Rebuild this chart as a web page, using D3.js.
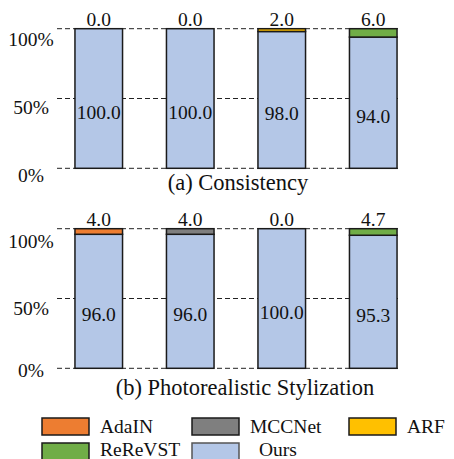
<!DOCTYPE html>
<html>
<head>
<meta charset="utf-8">
<script src="https://cdn.jsdelivr.net/npm/d3@7"></script>
<style>
  html, body { margin: 0; padding: 0; background: #fff; }
  svg { display: block; }
</style>
</head>
<body>
<svg id="chart" width="454" height="459" font-family="'Liberation Serif', 'Times New Roman', Times, 'DejaVu Serif', serif" fill="#111"></svg>
<script>
// ---- data ----
const methods = ["AdaIN", "MCCNet", "ARF", "ReReVST"];
const seriesNames = ["AdaIN", "MCCNet", "ARF", "ReReVST", "Ours"];
const seriesColors = ["#ED7D31", "#7F7F7F", "#FFC000", "#70AD47", "#B4C7E7"];
const panelTitles = ["(a) Consistency", "(b) Photorealistic Stylization"];
const consistencyOther = [0.0, 0.0, 2.0, 6.0];
const consistencyOurs = [100.0, 100.0, 98.0, 94.0];
const photoOther = [4.0, 4.0, 0.0, 4.7];
const photoOurs = [96.0, 96.0, 100.0, 95.3];
const yTicks = [0, 50, 100];
const yTickLabels = ["0%", "50%", "100%"];

// layout (pixels)
const panels = [
  { title: panelTitles[0], other: consistencyOther, ours: consistencyOurs,
    top: 28.7, bottom: 168.3, labelRange: [181.7, 114, 45.7], titleX: 238, titleY: 190 },
  { title: panelTitles[1], other: photoOther, ours: photoOurs,
    top: 228.7, bottom: 368.3, labelRange: [376.7, 315, 247.7], titleX: 245, titleY: 395 }
];

const svg = d3.select("#chart");
const FS = 19.5;
const FS_TITLE = 22.5;

const x = d3.scaleBand()
  .domain(methods)
  .range([53, 419])
  .paddingInner(0.48)
  .paddingOuter(0.24);

const color = d3.scaleOrdinal().domain(seriesNames).range(seriesColors);

panels.forEach(p => {
  const g = svg.append("g");
  const y = d3.scaleLinear().domain([0, 100]).range([p.bottom, p.top]);
  const yLab = d3.scaleLinear().domain(yTicks).range(p.labelRange);

  // dashed gridlines
  g.selectAll("line.grid").data(yTicks).enter().append("line")
    .attr("x1", 57).attr("x2", 401)
    .attr("y1", d => y(d)).attr("y2", d => y(d))
    .attr("stroke", "#222").attr("stroke-width", 1)
    .attr("stroke-dasharray", "5,3");

  // y tick labels
  g.selectAll("text.ytick").data(yTicks).enter().append("text")
    .attr("x", 31)
    .attr("y", d => yLab(d))
    .attr("text-anchor", "middle")
    .attr("font-size", FS)
    .text((d, i) => yTickLabels[i]);

  // Ours segments
  g.selectAll("rect.ours").data(methods).enter().append("rect")
    .attr("x", d => x(d))
    .attr("width", x.bandwidth())
    .attr("y", (d, i) => y(p.ours[i]))
    .attr("height", (d, i) => y(0) - y(p.ours[i]))
    .attr("fill", color("Ours"))
    .attr("stroke", "#1a1a1a").attr("stroke-width", 1.5);

  // other method segments on top
  methods.forEach((m, i) => {
    if (p.other[i] <= 0) return;
    g.append("rect")
      .attr("x", x(m))
      .attr("width", x.bandwidth())
      .attr("y", y(p.ours[i] + p.other[i]))
      .attr("height", y(0) - y(p.other[i]))
      .attr("fill", color(m))
      .attr("stroke", "#1a1a1a").attr("stroke-width", 1.5);
  });

  // top value labels
  g.selectAll("text.top").data(methods).enter().append("text")
    .attr("x", d => x(d) + x.bandwidth() / 2)
    .attr("y", y(100) - 3)
    .attr("text-anchor", "middle")
    .attr("font-size", FS)
    .text((d, i) => p.other[i].toFixed(1));

  // inner value labels
  g.selectAll("text.inner").data(methods).enter().append("text")
    .attr("x", d => x(d) + x.bandwidth() / 2)
    .attr("y", (d, i) => y(p.ours[i] / 2) + 20)
    .attr("text-anchor", "middle")
    .attr("font-size", FS)
    .text((d, i) => p.ours[i].toFixed(1));

  // panel caption
  g.append("text")
    .attr("x", p.titleX).attr("y", p.titleY)
    .attr("text-anchor", "middle")
    .attr("font-size", FS_TITLE)
    .text(p.title);
});

// legend
const legendCols = [42, 192, 349];
const legendRows = [418, 443];
const leg = svg.append("g");
seriesNames.forEach((name, i) => {
  const cx = legendCols[i % 3];
  const row = Math.floor(i / 3);
  const ry = legendRows[row];
  leg.append("rect")
    .attr("x", cx).attr("y", ry)
    .attr("width", 47).attr("height", 17)
    .attr("fill", color(name))
    .attr("stroke", name === "Ours" ? "#555" : "#1a1a1a")
    .attr("stroke-width", 1.5);
  leg.append("text")
    .attr("x", cx + 58 + (name === "Ours" ? 9 : 0))
    .attr("y", ry + (row === 0 ? 14.5 : 13))
    .attr("font-size", FS)
    .text(name);
});
</script>
</body>
</html>
